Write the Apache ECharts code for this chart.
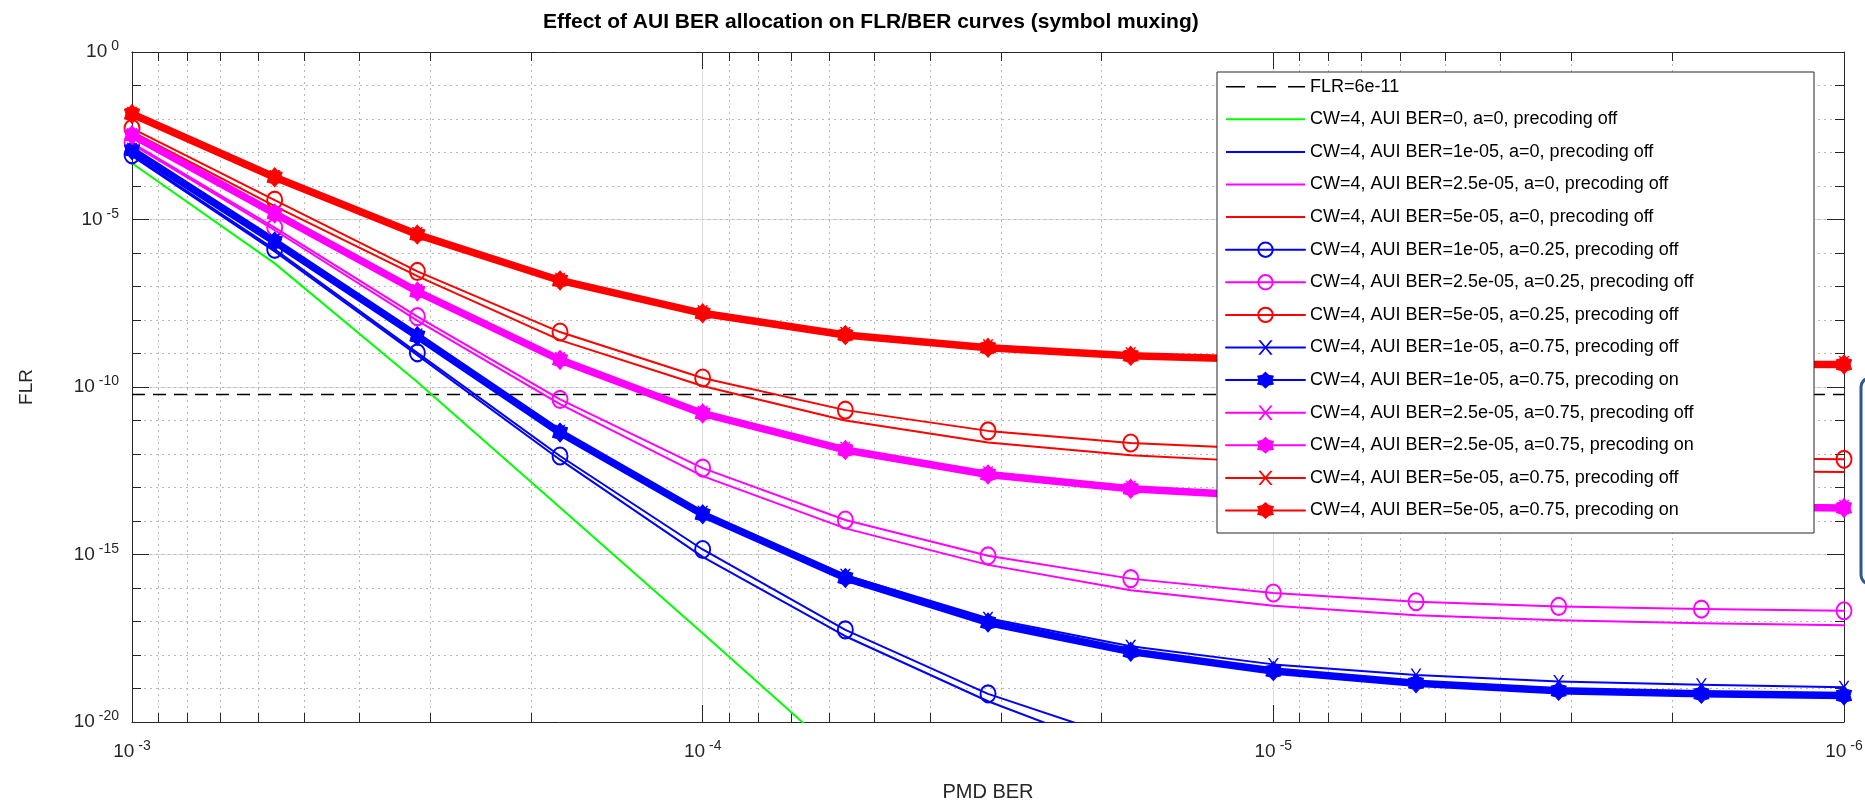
<!DOCTYPE html>
<html><head><meta charset="utf-8">
<script src="https://cdn.jsdelivr.net/npm/echarts@6/dist/echarts.min.js"></script>
<style>html,body{margin:0;padding:0;background:#fff}#c{width:1865px;height:803px}</style>
</head><body><div id="c"></div>
<script>
// ---------------- data ----------------
const pmdBer = [1e-3, 5.623e-4, 3.162e-4, 1.778e-4, 1e-4, 5.623e-5, 3.162e-5, 1.778e-5, 1e-5, 5.623e-6, 3.162e-6, 1.778e-6, 1e-6];
const flrThreshold = 6e-11;
// FLR values as log10(FLR)
const aui0_a0_off      = [-3.32, -6.31, -9.85, -13.6, -17.35, -21.15, null, null, null, null, null, null, null];
const aui1_a0_off      = [-3.10, -5.95, -9.05, -12.17, -15.07, -17.44, -19.38, -21.0, null, null, null, null, null];
const aui25_a0_off     = [-2.75, -5.32, -8.02, -10.51, -12.66, -14.22, -15.31, -16.07, -16.53, -16.81, -16.96, -17.05, -17.11];
const aui5_a0_off      = [-2.38, -4.60, -6.69, -8.60, -9.97, -11.00, -11.66, -12.04, -12.25, -12.38, -12.46, -12.51, -12.54];
const aui1_a025_off    = [-3.07, -5.89, -8.98, -12.06, -14.85, -17.25, -19.16, -20.58, null, null, null, null, null];
const aui25_a025_off   = [-2.71, -5.24, -7.90, -10.37, -12.42, -13.97, -15.04, -15.72, -16.15, -16.41, -16.55, -16.63, -16.68];
const aui5_a025_off    = [-2.28, -4.42, -6.55, -8.36, -9.73, -10.69, -11.31, -11.67, -11.86, -11.98, -12.06, -12.12, -12.16];
const aui1_a075_off    = [-2.90, -5.62, -8.45, -11.32, -13.74, -15.62, -16.90, -17.74, -18.28, -18.60, -18.79, -18.89, -18.96];
const aui1_a075_on     = [-2.93, -5.66, -8.48, -11.36, -13.80, -15.70, -17.03, -17.90, -18.48, -18.84, -19.07, -19.16, -19.21];
const aui25_a075_off   = [-2.46, -4.80, -7.12, -9.15, -10.75, -11.83, -12.56, -12.99, -13.22, -13.37, -13.46, -13.52, -13.56];
const aui25_a075_on    = [-2.48, -4.82, -7.15, -9.19, -10.79, -11.88, -12.61, -13.04, -13.27, -13.42, -13.51, -13.57, -13.61];
const aui5_a075_off    = [-1.83, -3.72, -5.42, -6.78, -7.75, -8.40, -8.77, -9.01, -9.13, -9.20, -9.24, -9.26, -9.27];
const aui5_a075_on     = [-1.85, -3.74, -5.45, -6.82, -7.80, -8.45, -8.83, -9.07, -9.19, -9.26, -9.30, -9.32, -9.33];

const xMinorTicks = [9e-4,8e-4,7e-4,6e-4,5e-4,4e-4,3e-4,2e-4, 9e-5,8e-5,7e-5,6e-5,5e-5,4e-5,3e-5,2e-5, 9e-6,8e-6,7e-6,6e-6,5e-6,4e-6,3e-6,2e-6];
const yMinorTicks = [1e-1,1e-2,1e-3,1e-4,1e-5,1e-6,1e-7,1e-8,1e-9,1e-10,1e-11,1e-12,1e-13,1e-14,1e-15,1e-16,1e-17,1e-18,1e-19];

const names = [
  'FLR=6e-11',
  'CW=4, AUI BER=0, a=0, precoding off',
  'CW=4, AUI BER=1e-05, a=0, precoding off',
  'CW=4, AUI BER=2.5e-05, a=0, precoding off',
  'CW=4, AUI BER=5e-05, a=0, precoding off',
  'CW=4, AUI BER=1e-05, a=0.25, precoding off',
  'CW=4, AUI BER=2.5e-05, a=0.25, precoding off',
  'CW=4, AUI BER=5e-05, a=0.25, precoding off',
  'CW=4, AUI BER=1e-05, a=0.75, precoding off',
  'CW=4, AUI BER=1e-05, a=0.75, precoding on',
  'CW=4, AUI BER=2.5e-05, a=0.75, precoding off',
  'CW=4, AUI BER=2.5e-05, a=0.75, precoding on',
  'CW=4, AUI BER=5e-05, a=0.75, precoding off',
  'CW=4, AUI BER=5e-05, a=0.75, precoding on'
];

// ---------------- styling ----------------
const FONT = '"Liberation Sans", Arial, Helvetica, sans-serif';
const TXT = '#262626';
const RED = '#ff0000', BLUE = '#0000ff', MAG = '#ff00ff', GREEN = '#00ff00';
const HEX = 'path://M0,-10 L3.6,-6.2 L8.66,-5 L7,0 L8.66,5 L3.6,6.2 L0,10 L-3.6,6.2 L-8.66,5 L-7,0 L-8.66,-5 L-3.6,-6.2 Z';
const XMK = 'path://M0,0 L1.6,0 L5,4.1 L8.4,0 L10,0 L5.8,5 L10,10 L8.4,10 L5,5.9 L1.6,10 L0,10 L4.2,5 Z';
const ICON_LINE = 'path://M0,0L0.01,0L0.01,0.01Z M0,8L79,8L79,10L0,10Z M79,18L78.99,18L78.99,17.99Z';
const ICON_DASH = 'path://M0,0L0.01,0L0.01,0.01Z M0,8.2L19,8.2L19,9.8L0,9.8Z M31,8.2L50,8.2L50,9.8L31,9.8Z M62,8.2L79,8.2L79,9.8L62,9.8Z M79,18L78.99,18L78.99,17.99Z';

function pts(logs) { return pmdBer.map((x, i) => [x, logs[i] == null ? null : Math.pow(10, logs[i])]); }

function series(name, logs, color, kind) {
  const s = { name, type: 'line', data: pts(logs), xAxisIndex: 0, yAxisIndex: 0,
    silent: true, animation: false, connectNulls: false, clip: true,
    emphasis: { disabled: true },
    lineStyle: { color, width: 2, cap: 'round', join: 'round' } };
  if (kind === 'plain') {
    s.symbol = 'none'; s.itemStyle = { color, borderWidth: 0 };
  } else if (kind === 'circle') {
    s.symbol = 'circle'; s.symbolSize = [15, 17];
    s.itemStyle = { color: 'rgba(255,255,255,0)', borderColor: color, borderWidth: 2 };
  } else if (kind === 'cross') {
    s.symbol = XMK; s.symbolSize = [11, 13];
    s.itemStyle = { color, borderWidth: 0 };
  } else if (kind === 'thick') {
    s.symbol = HEX; s.symbolSize = [15, 19];
    s.lineStyle.width = 7.5;
    s.itemStyle = { color, borderColor: color, borderWidth: 1 };
  }
  return s;
}

const thresholdSeries = {
  name: names[0], type: 'line', silent: true, animation: false, symbol: 'none',
  data: [[pmdBer[0], flrThreshold], [pmdBer[pmdBer.length - 1], flrThreshold]],
  lineStyle: { color: '#000', width: 1.5, type: [13, 8] }, itemStyle: { color: '#000', borderWidth: 0 },
  emphasis: { disabled: true }
};

const allSeries = [
  thresholdSeries,
  series(names[1], aui0_a0_off, GREEN, 'plain'),
  series(names[2], aui1_a0_off, BLUE, 'plain'),
  series(names[3], aui25_a0_off, MAG, 'plain'),
  series(names[4], aui5_a0_off, RED, 'plain'),
  series(names[5], aui1_a025_off, BLUE, 'circle'),
  series(names[6], aui25_a025_off, MAG, 'circle'),
  series(names[7], aui5_a025_off, RED, 'circle'),
  series(names[8], aui1_a075_off, BLUE, 'cross'),
  series(names[9], aui1_a075_on, BLUE, 'thick'),
  series(names[10], aui25_a075_off, MAG, 'cross'),
  series(names[11], aui25_a075_on, MAG, 'thick'),
  series(names[12], aui5_a075_off, RED, 'cross'),
  series(names[13], aui5_a075_on, RED, 'thick')
];

const legendData = names.map((n, i) => {
  if (i === 0) return { name: n, icon: ICON_DASH };
  if (i >= 1 && i <= 4) return { name: n, icon: ICON_LINE };
  return { name: n };
});

function expLabel(v) {
  const e = Math.round(Math.log10(v));
  return '{b|10}{s|' + e + '}';
}
const rich = {
  b: { fontSize: 19, color: TXT, fontFamily: FONT },
  s: { fontSize: 14, color: TXT, fontFamily: FONT, padding: [0, 0, 11, 4] }
};

const logX = { type: 'log', logBase: 10, min: 1e-6, max: 1e-3, inverse: true, gridIndex: 0 };
const logY = { type: 'log', logBase: 10, min: 1e-20, max: 1, gridIndex: 0 };
const hide = { show: false };

const option = {
  backgroundColor: '#fff',
  animation: false,
  title: {
    text: 'Effect of AUI BER allocation on FLR/BER curves (symbol muxing)',
    left: 538, top: 7,
    textStyle: { fontSize: 21, fontWeight: 'bold', color: '#000', fontFamily: FONT }
  },
  grid: { left: 132, right: 21, top: 52, bottom: 81, containLabel: false, outerBoundsMode: 'none' },
  xAxis: [
    Object.assign({}, logX, {
      position: 'bottom', interval: 1,
      name: 'PMD BER', nameLocation: 'middle', nameGap: 60,
      nameTextStyle: { fontSize: 20, color: TXT, fontFamily: FONT },
      axisLine: { show: true, onZero: false, lineStyle: { color: TXT, width: 1 } },
      axisTick: { show: true, inside: true, length: 17, lineStyle: { color: TXT } },
      axisLabel: { show: true, margin: 17, formatter: expLabel, rich, showMinLabel: true, showMaxLabel: true },
      splitLine: { show: true, lineStyle: { color: '#dedede', width: 1 } },
      minorTick: hide, minorSplitLine: hide
    }),
    Object.assign({}, logX, {
      position: 'bottom',
      axisLine: { show: false, onZero: false },
      axisTick: { show: true, inside: true, length: 9, customValues: xMinorTicks, lineStyle: { color: TXT } },
      axisLabel: hide,
      splitLine: { show: true, lineStyle: { color: '#b8b8b8', width: 1, type: [2, 4] } }
    }),
    Object.assign({}, logX, {
      position: 'top', interval: 1,
      axisLine: { show: true, onZero: false, lineStyle: { color: TXT, width: 1 } },
      axisTick: { show: true, inside: true, length: 17, lineStyle: { color: TXT } },
      axisLabel: hide, splitLine: hide
    }),
    Object.assign({}, logX, {
      position: 'top',
      axisLine: { show: false, onZero: false },
      axisTick: { show: true, inside: true, length: 9, customValues: xMinorTicks, lineStyle: { color: TXT } },
      axisLabel: hide, splitLine: hide
    })
  ],
  yAxis: [
    Object.assign({}, logY, {
      position: 'left', interval: 5,
      name: 'FLR', nameLocation: 'middle', nameGap: 96, nameRotate: 90,
      nameTextStyle: { fontSize: 19, color: TXT, fontFamily: FONT },
      axisLine: { show: true, onZero: false, lineStyle: { color: TXT, width: 1 } },
      axisTick: { show: true, inside: true, length: 17, lineStyle: { color: TXT } },
      axisLabel: { show: true, margin: 13, formatter: expLabel, rich, showMinLabel: true, showMaxLabel: true },
      splitLine: { show: true, lineStyle: { color: '#dedede', width: 1 } },
      minorTick: hide, minorSplitLine: hide
    }),
    Object.assign({}, logY, {
      position: 'left',
      axisLine: { show: false, onZero: false },
      axisTick: { show: true, inside: true, length: 9, customValues: yMinorTicks, lineStyle: { color: TXT } },
      axisLabel: hide,
      splitLine: { show: true, lineStyle: { color: '#b8b8b8', width: 1, type: [2, 4] } }
    }),
    Object.assign({}, logY, {
      position: 'right', interval: 5,
      axisLine: { show: true, onZero: false, lineStyle: { color: TXT, width: 1 } },
      axisTick: { show: true, inside: true, length: 17, lineStyle: { color: TXT } },
      axisLabel: hide, splitLine: hide
    }),
    Object.assign({}, logY, {
      position: 'right',
      axisLine: { show: false, onZero: false },
      axisTick: { show: true, inside: true, length: 9, customValues: yMinorTicks, lineStyle: { color: TXT } },
      axisLabel: hide, splitLine: hide
    })
  ],
  legend: {
    show: true, orient: 'vertical', left: 1225, top: 77.7, padding: 0,
    itemWidth: 79, itemHeight: 18, itemGap: 14.6, selectedMode: false, z: 6,
    textStyle: { fontSize: 18, color: '#000', fontFamily: FONT, lineHeight: 18 },
    data: legendData
  },
  graphic: [
    { type: 'rect', z: 5, silent: true, shape: { x: 1217, y: 72, width: 597, height: 461 },
      style: { fill: '#fff', stroke: TXT, lineWidth: 1 } },
    { type: 'rect', z: 5, silent: true, shape: { x: 1861, y: 378, width: 30, height: 206, r: 9 },
      style: { fill: 'none', stroke: '#2f5597', lineWidth: 3 } }
  ],
  series: allSeries
};

const chart = echarts.init(document.getElementById('c'), null, { renderer: 'canvas' });
chart.setOption(option);
</script>
</body></html>
